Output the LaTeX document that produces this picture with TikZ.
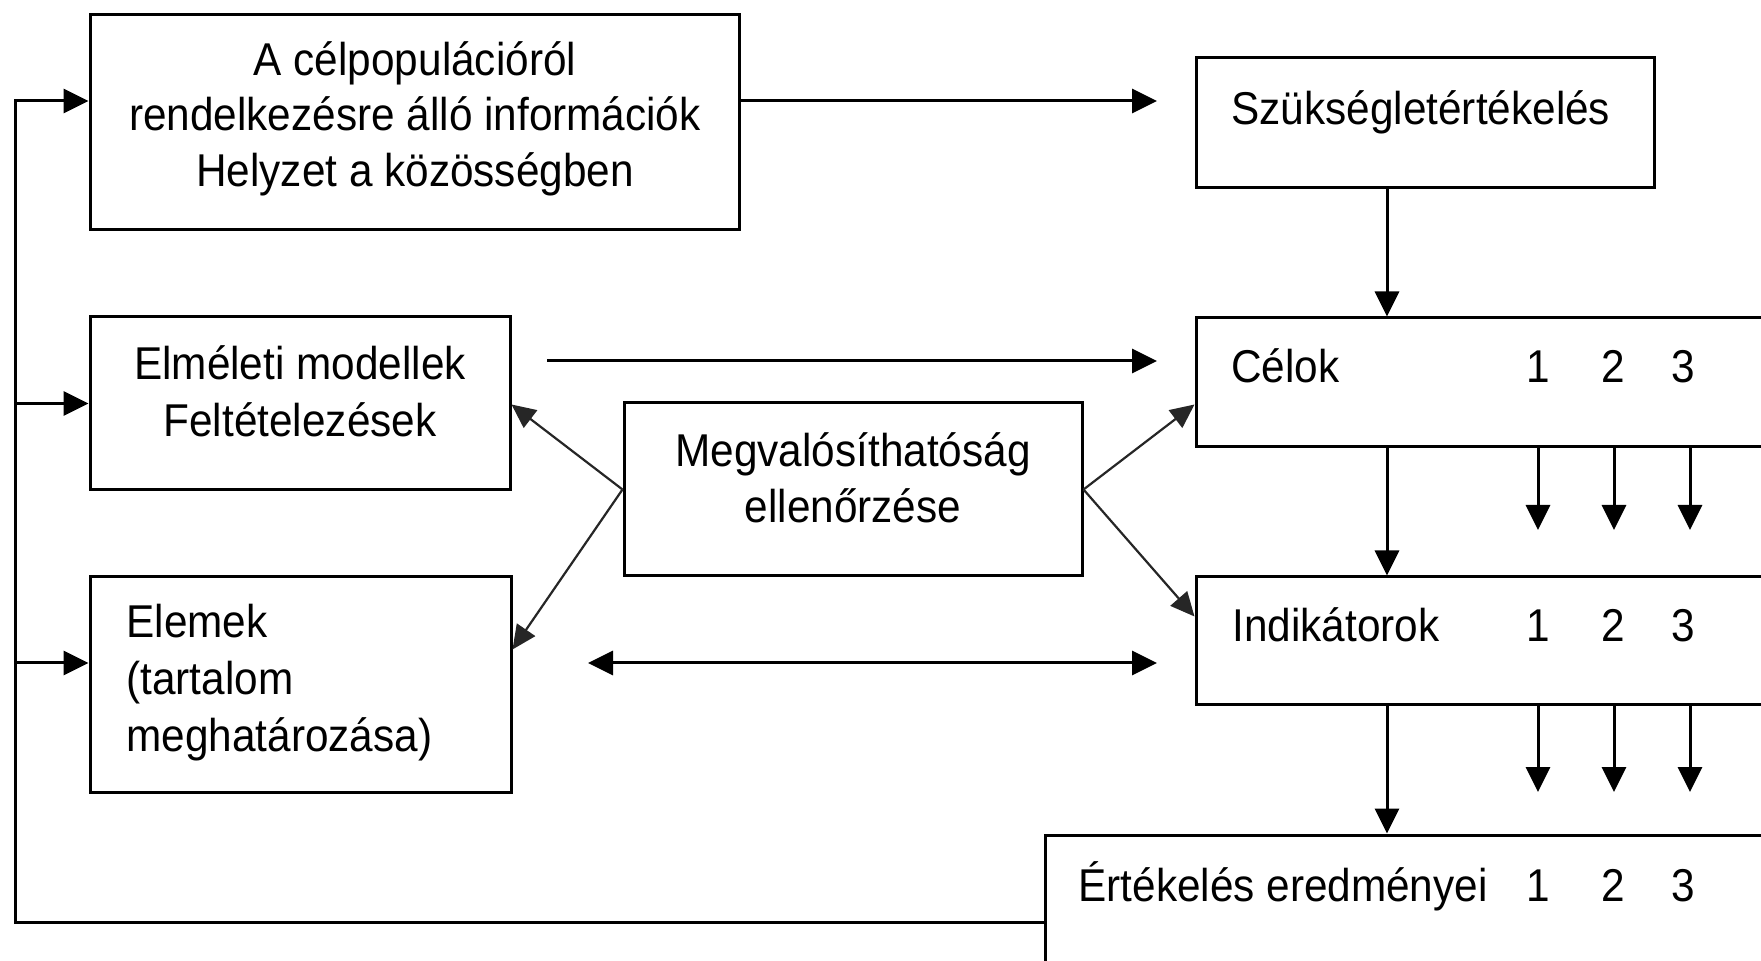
\documentclass[tikz,border=0pt]{standalone}
\usepackage{fontspec}
\setmainfont{Liberation Sans}[FakeStretch=0.92]
\usetikzlibrary{arrows.meta}
\begin{document}
\begin{tikzpicture}[x=0.5pt,y=-0.5pt,
  box/.style={draw, line width=1.5pt, rectangle, inner sep=0pt},
  conn/.style={line width=1.5pt, -{Triangle[length=12.5pt,width=12pt]}},
  dconn/.style={line width=1.5pt, {Triangle[length=12.5pt,width=12pt]}-{Triangle[length=12.5pt,width=12pt]}},
  diag/.style={line width=1.1pt, draw=black!85, -{Triangle[length=12pt,width=11pt]}},
  txt/.style={inner sep=0pt, font=\fontsize{23pt}{26pt}\selectfont}]
\useasboundingbox (0,0) rectangle (1761,961);
\clip (0,0) rectangle (1761,961);

% boxes
\node[box, minimum width=324.5pt, minimum height=107.5pt] (A) at (414.5,122.5) {};
\node[box, minimum width=229pt, minimum height=65pt] (Sz) at (1425,123) {};
\node[box, minimum width=302pt, minimum height=64.5pt] (Cel) at (1498,382.5) {};
\node[box, minimum width=302pt, minimum height=64pt] (Ind) at (1498,641) {};
\node[box, minimum width=377.5pt, minimum height=82.5pt] (Ert) at (1422.5,917.5) {};
\node[box, minimum width=210pt, minimum height=86.5pt] (Elm) at (300,403.5) {};
\node[box, minimum width=229pt, minimum height=86.5pt] (Megv) at (853,489.5) {};
\node[box, minimum width=210.5pt, minimum height=107.5pt] (Elem) at (300.5,684.5) {};

% texts
\node[txt, anchor=base] (A1) at (415,76) {A célpopulációról};
\node[txt, anchor=base] (A2) at (415,131) {rendelkezésre álló információk};
\node[txt, anchor=base] (A3) at (415,187) {Helyzet a közösségben};
\node[txt, anchor=base west] (SzT) at (1231,125) {Szükségletértékelés};
\node[txt, anchor=base west] (CelT) at (1231,383) {Célok};
\node[txt, anchor=base] (Cel1) at (1538,383) {1};
\node[txt, anchor=base] (Cel2) at (1613,383) {2};
\node[txt, anchor=base] (Cel3) at (1683,383) {3};
\node[txt, anchor=base] (Elm1) at (300,380) {Elméleti modellek};
\node[txt, anchor=base] (Elm2) at (300,437) {Feltételezések};
\node[txt, anchor=base] (Megv1) at (853,467) {Megvalósíthatóság};
\node[txt, anchor=base] (Megv2) at (853,523) {ellenőrzése};
\node[txt, anchor=base west] (IndT) at (1232,642) {Indikátorok};
\node[txt, anchor=base] (Ind1) at (1538,642) {1};
\node[txt, anchor=base] (Ind2) at (1613,642) {2};
\node[txt, anchor=base] (Ind3) at (1683,642) {3};
\node[txt, anchor=base west] (Elem1) at (126,638) {Elemek};
\node[txt, anchor=base west] (Elem2) at (126,695) {(tartalom};
\node[txt, anchor=base west] (Elem3) at (126,752) {meghatározása)};
\node[txt, anchor=base west] (ErtT) at (1078,901) {Értékelés eredményei};
\node[txt, anchor=base] (Ert1) at (1538,901) {1};
\node[txt, anchor=base] (Ert2) at (1613,901) {2};
\node[txt, anchor=base] (Ert3) at (1683,901) {3};

% free ends
\coordinate (aEnd) at (1157,101);
\coordinate (eStart) at (547,361);
\coordinate (eEnd) at (1157,361);
\coordinate (dL) at (588,663);
\coordinate (dR) at (1157,663);
\coordinate (vx) at (1387,0);
\coordinate (tc1) at (1538,530);
\coordinate (tc2) at (1614,530);
\coordinate (tc3) at (1690,530);
\coordinate (ti1) at (1538,792);
\coordinate (ti2) at (1614,792);
\coordinate (ti3) at (1690,792);
\coordinate (lpTop) at (15,101);
\coordinate (lpBot) at (15,922);
\coordinate (lpEl) at (15,663);

% horizontal connectors
\draw[conn] (A.east |- aEnd) -- (aEnd);
\draw[conn] (eStart) -- (eEnd);
\draw[dconn] (dL) -- (dR);

% vertical chain
\draw[conn] (Sz.south -| vx) -- (Cel.north -| vx);
\draw[conn] (Cel.south -| vx) -- (Ind.north -| vx);
\draw[conn] (Ind.south -| vx) -- (Ert.north -| vx);

% small arrows
\draw[conn] (Cel.south -| tc1) -- (tc1);
\draw[conn] (Cel.south -| tc2) -- (tc2);
\draw[conn] (Cel.south -| tc3) -- (tc3);
\draw[conn] (Ind.south -| ti1) -- (ti1);
\draw[conn] (Ind.south -| ti2) -- (ti2);
\draw[conn] (Ind.south -| ti3) -- (ti3);

% feedback loop
\draw[conn] (Ert.west |- lpBot) -- (lpBot) -- (lpTop) -- (A.west |- lpTop);
\draw[conn] (lpTop |- Elm.west) -- (Elm.west);
\draw[conn] (lpEl) -- (Elem.west |- lpEl);

% diagonals
\draw[diag] (Megv.west) -- ([yshift=-44.5pt]Elm.north east);
\draw[diag] (Megv.west) -- ([yshift=-37pt]Elem.north east);
\draw[diag] (Megv.east) -- ([yshift=-44pt]Cel.north west);
\draw[diag] (Megv.east) -- ([yshift=-20.5pt]Ind.north west);
\end{tikzpicture}
\end{document}
